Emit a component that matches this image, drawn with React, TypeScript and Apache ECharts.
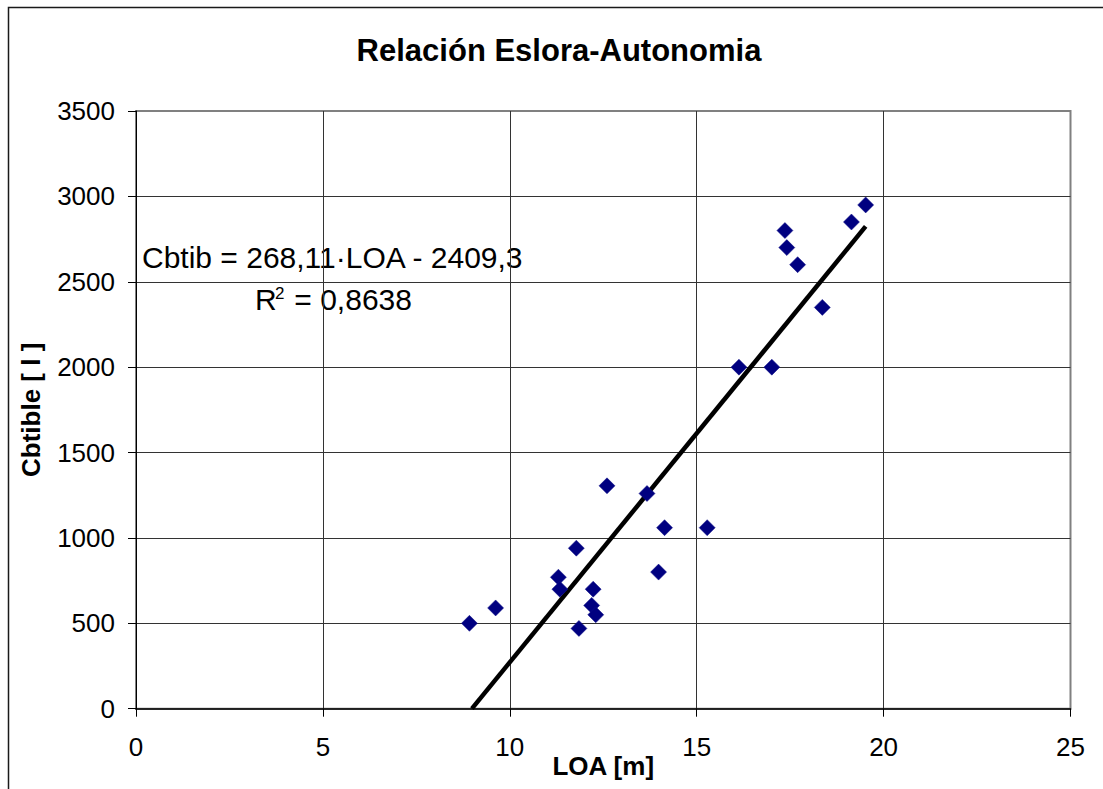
import React, { useEffect, useRef } from "react";
import * as echarts from "echarts";

const loa = [8.92, 9.62, 11.3, 11.34, 11.78, 11.85, 12.19, 12.23, 12.3, 12.6, 13.67, 13.98, 14.14, 15.28, 16.13, 17.01, 17.36, 17.41, 17.7, 18.36, 19.14, 19.52];
const cbtible = [500, 590, 770, 700, 940, 470, 605, 700, 550, 1305, 1260, 800, 1060, 1060, 2000, 2000, 2800, 2700, 2600, 2350, 2850, 2950];

const trendSlope = 268.11;
const trendIntercept = -2409.3;
const trendX = [-trendIntercept / trendSlope, 19.52];

const xTicks = [0, 5, 10, 15, 20, 25];
const yTicks = [0, 500, 1000, 1500, 2000, 2500, 3000, 3500];

const FONT = "'Liberation Sans', Arial, Helvetica, sans-serif";

export default function App() {
  const ref = useRef<HTMLDivElement>(null);
  useEffect(() => {
    if (!ref.current) return;
    const chart = echarts.init(ref.current, undefined, { renderer: "svg" });
    const points = loa.map((x, i) => [x, cbtible[i]]);
    const trend = trendX.map((x) => [x, trendSlope * x + trendIntercept]);
    chart.setOption({
      animation: false,
      backgroundColor: "#ffffff",
      textStyle: { fontFamily: FONT },
      grid: {
        left: 136,
        top: 111,
        right: 32.5,
        bottom: 80.3,
        outerBoundsMode: "none",
        containLabel: false,
        show: true,
        borderColor: "#808080",
        borderWidth: 2,
        backgroundColor: "transparent",
      },
      xAxis: {
        type: "value",
        min: xTicks[0],
        max: xTicks[xTicks.length - 1],
        interval: 5,
        name: "LOA [m]",
        nameLocation: "middle",
        nameGap: 44,
        nameMoveOverlap: false,
        nameTextStyle: { fontFamily: FONT, fontSize: 26, fontWeight: "bold", color: "#000" },
        axisLine: { show: true, onZero: false, lineStyle: { color: "#000", width: 1.5 } },
        axisTick: { show: true, inside: false, length: 8, lineStyle: { color: "#000", width: 1 } },
        axisLabel: { fontFamily: FONT, fontSize: 26, color: "#000", margin: 25, formatter: (v: number) => String(v) },
        splitLine: { show: true, showMinLine: false, showMaxLine: false, lineStyle: { color: "#333", width: 1 } },
      },
      yAxis: {
        type: "value",
        min: yTicks[0],
        max: yTicks[yTicks.length - 1],
        interval: 500,
        name: "Cbtible [ l ]",
        nameLocation: "middle",
        nameGap: 92,
        nameMoveOverlap: false,
        nameRotate: 90,
        nameTextStyle: { fontFamily: FONT, fontSize: 26, fontWeight: "bold", color: "#000" },
        axisLine: { show: true, onZero: false, lineStyle: { color: "#000", width: 1 } },
        axisTick: { show: true, inside: false, length: 8, lineStyle: { color: "#000", width: 1 } },
        axisLabel: { fontFamily: FONT, fontSize: 26, color: "#000", margin: 21, formatter: (v: number) => String(v) },
        splitLine: { show: true, showMinLine: false, showMaxLine: false, lineStyle: { color: "#333", width: 1 } },
      },
      series: [
        {
          type: "line",
          data: trend,
          showSymbol: false,
          symbol: "none",
          lineStyle: { color: "#000", width: 4.5 },
          z: 3,
          silent: true,
        },
        {
          type: "scatter",
          data: points,
          symbol: "diamond",
          symbolSize: [16, 16],
          itemStyle: { color: "#000080", opacity: 1, borderColor: "#101088", borderWidth: 0.5 },
          z: 4,
        },
      ],
      graphic: [
        {
          type: "polyline",
          shape: { points: [[8.5, 900], [8.5, 7.5], [1200, 7.5]] },
          style: { stroke: "#1a1a1a", lineWidth: 1.5, fill: "none" },
          silent: true,
        },
        {
          type: "text",
          x: 559,
          y: 50,
          style: {
            text: "Relación Eslora-Autonomia",
            font: `bold 31px ${FONT}`,
            fill: "#000",
            align: "center",
            verticalAlign: "middle",
          },
        },
        {
          type: "text",
          x: 142,
          y: 257,
          style: {
            text: "Cbtib = 268,11·LOA - 2409,3",
            font: `30px ${FONT}`,
            fill: "#000",
            align: "left",
            verticalAlign: "middle",
          },
        },
        {
          type: "text",
          x: 255,
          y: 299,
          style: { text: "R", font: `30px ${FONT}`, fill: "#000", align: "left", verticalAlign: "middle" },
        },
        {
          type: "text",
          x: 275,
          y: 293,
          style: { text: "2", font: `17px ${FONT}`, fill: "#000", align: "left", verticalAlign: "middle" },
        },
        {
          type: "text",
          x: 286,
          y: 299,
          style: { text: " = 0,8638", font: `30px ${FONT}`, fill: "#000", align: "left", verticalAlign: "middle" },
        },
      ],
    });
    return () => chart.dispose();
  }, []);
  return (
    <div
      ref={ref}
      style={{ position: "absolute", left: 0, top: 0, width: 1103, height: 789 }}
    />
  );
}
